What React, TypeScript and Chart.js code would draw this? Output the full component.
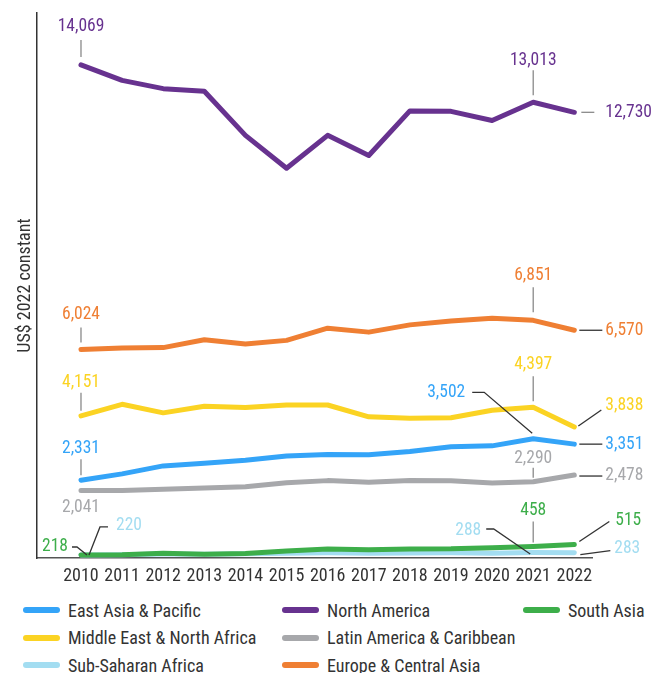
import React, { useEffect, useRef } from 'react';
import { Chart, registerables } from 'chart.js';

Chart.register(...registerables);

const YEARS = [2010, 2011, 2012, 2013, 2014, 2015, 2016, 2017, 2018, 2019, 2020, 2021, 2022];

const EAST_ASIA_PACIFIC = [2331, 2511, 2736, 2808, 2898, 3015, 3060, 3051, 3141, 3276, 3303, 3502, 3351];
const NORTH_AMERICA = [14069, 13632, 13399, 13325, 12079, 11149, 12079, 11511, 12770, 12758, 12497, 13013, 12730];
const SOUTH_ASIA = [218, 228, 268, 238, 262, 330, 390, 366, 390, 392, 420, 458, 515];
const MIDDLE_EAST_NORTH_AFRICA = [4151, 4477, 4235, 4421, 4384, 4458, 4458, 4123, 4086, 4095, 4309, 4397, 3838];
const LATIN_AMERICA_CARIBBEAN = [2041, 2041, 2077, 2113, 2149, 2260, 2320, 2275, 2320, 2315, 2250, 2290, 2478];
const SUB_SAHARAN_AFRICA = [220, 225, 245, 240, 250, 265, 280, 270, 275, 280, 268, 288, 283];
const EUROPE_CENTRAL_ASIA = [6024, 6070, 6080, 6303, 6182, 6284, 6629, 6517, 6722, 6833, 6910, 6851, 6570];

const Y_TITLE = 'US$ 2022 constant';

const FONT = '"Roboto Condensed", "Liberation Sans Narrow", Roboto, sans-serif';

type Series = { key: string; label: string; data: number[]; color: string; order: number };

const SERIES: Series[] = [
  { key: 'eap', label: 'East Asia & Pacific', data: EAST_ASIA_PACIFIC, color: '#34A4F8', order: 3 },
  { key: 'na', label: 'North America', data: NORTH_AMERICA, color: '#67328F', order: 6 },
  { key: 'sa', label: 'South Asia', data: SOUTH_ASIA, color: '#3DAE4A', order: 0 },
  { key: 'mena', label: 'Middle East & North Africa', data: MIDDLE_EAST_NORTH_AFRICA, color: '#FBD323', order: 4 },
  { key: 'lac', label: 'Latin America & Caribbean', data: LATIN_AMERICA_CARIBBEAN, color: '#A7A8AB', order: 2 },
  { key: 'ssa', label: 'Sub-Saharan Africa', data: SUB_SAHARAN_AFRICA, color: '#A3DDF1', order: 1 },
  { key: 'eca', label: 'Europe & Central Asia', data: EUROPE_CENTRAL_ASIA, color: '#EF7F33', order: 5 },
];

// legend layout: column-major, 3 rows
const LEGEND_COLUMNS = [
  ['eap', 'mena', 'ssa'],
  ['na', 'lac', 'eca'],
  ['sa'],
];

type Ann = {
  key: string;
  i: number;
  dx: number;
  dy: number;
  align: CanvasTextAlign;
  leader?: number[][];
  lc?: string;
};

const G = '#8a8a8a';
const D = '#333333';

const ANNOTATIONS: Ann[] = [
  { key: 'na', i: 0, dx: 0, dy: -38, align: 'center', leader: [[0, -25], [0, -8]], lc: G },
  { key: 'na', i: 11, dx: 0, dy: -42, align: 'center', leader: [[0, -32], [0, -7]], lc: G },
  { key: 'na', i: 12, dx: 31, dy: 0, align: 'left', leader: [[7, 0], [20, 0]], lc: G },
  { key: 'eca', i: 0, dx: 0, dy: -35, align: 'center', leader: [[0, -22], [0, -7]], lc: G },
  { key: 'eca', i: 11, dx: 0, dy: -45, align: 'center', leader: [[0, -33], [0, -8]], lc: G },
  { key: 'eca', i: 12, dx: 31, dy: 0, align: 'left', leader: [[5, 0], [28, 0]], lc: D },
  { key: 'mena', i: 0, dx: 0, dy: -33, align: 'center', leader: [[0, -23], [0, -5]], lc: G },
  { key: 'mena', i: 11, dx: 0, dy: -43, align: 'center', leader: [[0, -31], [0, -6]], lc: G },
  { key: 'mena', i: 12, dx: 31, dy: -21, align: 'left', leader: [[4, -1], [27, -17]], lc: D },
  { key: 'eap', i: 0, dx: 0, dy: -32, align: 'center', leader: [[0, -21], [0, -5]], lc: G },
  { key: 'eap', i: 11, dx: -68, dy: -46, align: 'right', leader: [[-61, -46.5], [-49, -46.5], [-1, -5.5]], lc: D },
  { key: 'eap', i: 12, dx: 31, dy: 0, align: 'left', leader: [[5, 0], [28, 0]], lc: D },
  { key: 'lac', i: 0, dx: 0, dy: 17, align: 'center' },
  { key: 'lac', i: 11, dx: 0, dy: -23, align: 'center', leader: [[0, -14], [0, -4]], lc: G },
  { key: 'lac', i: 12, dx: 31, dy: 1, align: 'left', leader: [[5, 1], [28, 1]], lc: D },
  { key: 'sa', i: 0, dx: -13, dy: -8, align: 'right', leader: [[-9, -8], [-4, -8], [6, 0]], lc: D },
  { key: 'sa', i: 11, dx: 0, dy: -36, align: 'center', leader: [[0, -25], [0, -4]], lc: G },
  { key: 'sa', i: 12, dx: 41, dy: -24, align: 'left', leader: [[5, -3], [35, -23]], lc: D },
  { key: 'ssa', i: 0, dx: 35, dy: -29, align: 'left', leader: [[27, -28], [19, -28], [8, 0]], lc: D },
  { key: 'ssa', i: 11, dx: -52, dy: -22, align: 'right', leader: [[-47, -23.5], [-39.5, -23.5], [-3, 1.5]], lc: D },
  { key: 'ssa', i: 12, dx: 40, dy: -4.5, align: 'left', leader: [[6, 2], [36, -2]], lc: D },
];

const fmt = (v: number) => v.toLocaleString('en-US');

const labelsPlugin = {
  id: 'valueLabels',
  afterDatasetsDraw(chart: any) {
    const ctx: CanvasRenderingContext2D = chart.ctx;
    const xs = chart.scales.x;
    const ys = chart.scales.y;
    ctx.save();
    for (const a of ANNOTATIONS) {
      const s = SERIES.find((q) => q.key === a.key)!;
      const v = s.data[a.i];
      const px = xs.getPixelForValue(YEARS[a.i]);
      const py = ys.getPixelForValue(v);
      if (a.leader) {
        ctx.beginPath();
        a.leader.forEach(([dx, dy], k) => {
          if (k === 0) ctx.moveTo(px + dx, py + dy);
          else ctx.lineTo(px + dx, py + dy);
        });
        ctx.strokeStyle = a.lc || D;
        ctx.lineWidth = 1.3;
        ctx.stroke();
      }
      ctx.font = `17.5px ${FONT}`;
      ctx.fillStyle = s.color;
      ctx.textAlign = a.align;
      ctx.textBaseline = 'middle';
      ctx.fillText(fmt(v), px + a.dx, py + a.dy);
    }
    ctx.restore();
  },
};

export default function App() {
  const ref = useRef<HTMLCanvasElement>(null);

  useEffect(() => {
    document.body.style.margin = '0';
    const canvas = ref.current!;
    const chart = new Chart(canvas, {
      type: 'line',
      data: {
        datasets: SERIES.map((s) => ({
          label: s.label,
          data: YEARS.map((x, i) => ({ x, y: s.data[i] })),
          borderColor: s.color,
          backgroundColor: s.color,
          borderWidth: 5,
          pointRadius: 0,
          tension: 0,
          borderCapStyle: 'round' as const,
          borderJoinStyle: 'round' as const,
          order: s.order,
        })),
      },
      options: {
        animation: false,
        responsive: false,
        maintainAspectRatio: false,
        layout: { padding: { top: 13, right: 62, bottom: 0, left: 0 } },
        plugins: { legend: { display: false }, tooltip: { enabled: false } },
        scales: {
          x: {
            type: 'linear',
            min: 2008.93,
            max: 2022.43,
            grid: { display: false, drawTicks: false },
            border: { display: true, color: '#555', width: 1.5 },
            afterBuildTicks: (scale: any) => {
              scale.ticks = YEARS.map((v) => ({ value: v }));
            },
            afterFit: (scale: any) => {
              scale.height = 37;
            },
            ticks: {
              autoSkip: false,
              maxRotation: 0,
              padding: 8,
              color: '#333',
              font: { family: FONT, size: 18 },
              callback: (v: any) => String(v),
            },
          },
          y: {
            type: 'linear',
            min: 133,
            max: 15537,
            grid: { display: false, drawTicks: false },
            border: { display: true, color: '#333', width: 1.5 },
            ticks: { display: false },
            afterFit: (scale: any) => {
              scale.width = 37;
            },
            title: {
              display: true,
              text: Y_TITLE,
              color: '#333',
              font: { family: FONT, size: 18 },
              padding: { top: 15, bottom: 0 },
            },
          },
        },
      },
      plugins: [labelsPlugin],
    });
    return () => chart.destroy();
  }, []);

  const byKey = (k: string) => SERIES.find((s) => s.key === k)!;
  const colX = [23, 282, 523];
  const rowY = [610, 637.5, 665];

  return (
    <div style={{ position: 'fixed', left: 0, top: 0, width: 654, height: 673, background: '#fff', overflow: 'hidden' }}>
      <canvas ref={ref} width={654} height={595} style={{ position: 'absolute', left: 0, top: 0, width: 654, height: 595 }} />
      {LEGEND_COLUMNS.map((col, ci) =>
        col.map((k, ri) => {
          const s = byKey(k);
          return (
            <div key={k} style={{ position: 'absolute', left: colX[ci], top: rowY[ri] - 12, height: 24, display: 'flex', alignItems: 'center', whiteSpace: 'nowrap' }}>
              <span style={{ display: 'inline-block', width: 37, height: 6, borderRadius: 3, background: s.color }} />
              <span style={{ marginLeft: 8, fontFamily: FONT, fontSize: 18, color: '#333' }}>{s.label}</span>
            </div>
          );
        })
      )}
    </div>
  );
}
